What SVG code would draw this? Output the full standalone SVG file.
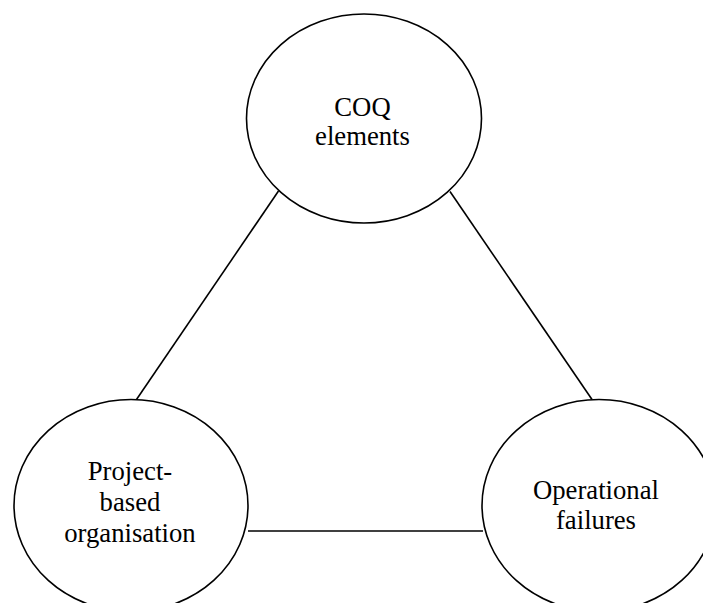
<svg xmlns="http://www.w3.org/2000/svg" width="703" height="603" viewBox="0 0 703 603">
<style>
.node ellipse{fill:#fff;stroke:#000;stroke-width:1.6}
.edges line{stroke:#000;stroke-width:1.6}
text{font-family:"Liberation Serif","Times New Roman",serif;font-size:26.7px;fill:#000;text-anchor:middle}
</style>
<rect width="703" height="603" fill="#fff"/>
<g id="connectors" class="edges">
<line x1="278.5" y1="191" x2="136.5" y2="399.5"/>
<line x1="450" y1="191.5" x2="592" y2="399.5"/>
<line x1="248" y1="531" x2="483" y2="531"/>
</g>
<g id="coq" class="node">
<ellipse cx="364" cy="118.5" rx="117.5" ry="104.5"/>
<text x="362.5" y="115.5">COQ</text>
<text x="362.5" y="145">elements</text>
</g>
<g id="pbo" class="node">
<ellipse cx="131" cy="505.5" rx="117" ry="106"/>
<text x="130" y="480">Project-</text>
<text x="130" y="511">based</text>
<text x="130" y="541.5">organisation</text>
</g>
<g id="opf" class="node">
<ellipse cx="599" cy="505.5" rx="117" ry="106"/>
<text x="596" y="498.5">Operational</text>
<text x="596" y="528.5">failures</text>
</g>
</svg>
